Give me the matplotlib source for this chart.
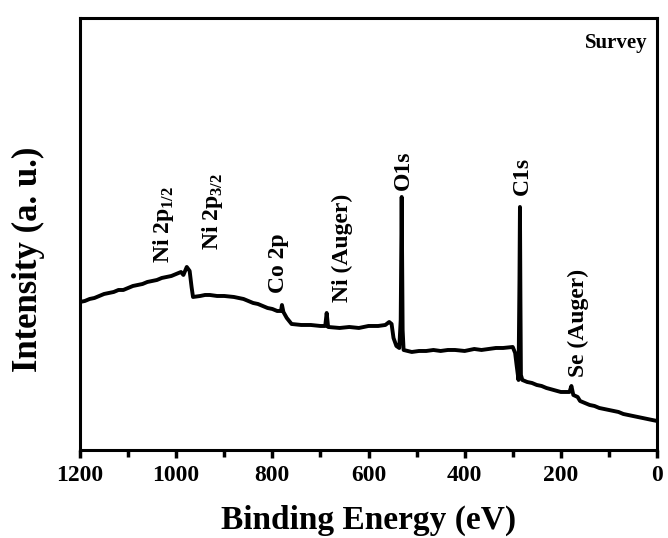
import numpy as np
import matplotlib
matplotlib.use("Agg")
import matplotlib.pyplot as plt
from matplotlib.ticker import MultipleLocator

plt.rcParams['font.family'] = ['Liberation Serif', 'DejaVu Serif']
plt.rcParams['font.weight'] = 'bold'
plt.rcParams['mathtext.fontset'] = 'custom'
plt.rcParams['mathtext.bf'] = 'Liberation Serif:bold'
plt.rcParams['mathtext.rm'] = 'Liberation Serif:bold'

# XPS survey spectrum (arbitrary intensity units)
binding_energy = np.array([
    1200, 1190, 1180, 1170, 1160, 1150, 1140, 1130, 1120, 1110, 1100, 1090, 1080, 1070, 1060, 1050,
    1040, 1030, 1020, 1010, 1000, 990, 985, 978, 972, 968, 965,
    950, 940, 930, 915, 900, 880, 870, 860, 850, 840, 830, 820, 810, 800, 790, 782, 780, 777, 770, 760,
    740, 720, 700, 690, 687, 684,
    660, 640, 620, 600, 580, 565, 557, 552, 548, 542, 536, 533, 531, 529, 527,
    510, 495, 480, 465, 450, 435, 420, 400, 380, 365, 350, 335, 320, 300, 295, 292, 288, 286, 285, 284, 283,
    280, 270, 260, 250, 240, 230, 215, 200, 182, 178, 174, 165, 160, 150, 140, 130, 120, 110, 100,
    90, 80, 70, 60, 50, 40, 30, 20, 10, 0,
], dtype=float)
intensity = np.array([
    151, 152, 154, 155, 157, 159, 160, 161, 163, 163, 165, 167, 168, 169, 171, 172,
    173, 175, 176, 177, 179, 181, 178, 186, 182, 166, 156,
    157, 158, 158, 157, 157, 156, 155, 154, 152, 150, 149, 147, 145, 144, 142, 142, 148, 141, 135, 129,
    128, 128, 127, 127, 140, 126,
    125, 126, 125, 127, 127, 128, 131, 129, 115, 107, 105, 133, 256, 123, 103,
    101, 102, 102, 103, 102, 103, 103, 102, 104, 103, 104, 105, 105, 106, 100, 88, 73, 173, 246, 153, 78,
    73, 71, 70, 68, 67, 65, 63, 61, 61, 67, 58, 56, 52, 50, 48, 47, 45, 44, 43,
    42, 41, 39, 38, 37, 36, 35, 34, 33, 32,
], dtype=float)

peak_labels = ['Ni 2p$_{\\mathbf{1/2}}$', 'Ni 2p$_{\\mathbf{3/2}}$', 'Co 2p', 'Ni (Auger)',
               'O1s', 'C1s', 'Se (Auger)']
label_energy = [1027, 925, 788, 655, 528, 281, 164]
label_height = [190, 203, 160, 151, 263, 258, 76]

fig = plt.figure(figsize=(6.68, 5.38), dpi=100)
ax = fig.add_axes([0.1198, 0.1636, 0.8637, 0.803])

ax.plot(binding_energy, intensity, color='black', linewidth=2.8)

for lab, e, h in zip(peak_labels, label_energy, label_height):
    ax.text(e, h, lab, rotation=90, ha='center', va='bottom', fontsize=17, fontweight='bold')

ax.text(0.984, 0.943, 'Survey', transform=ax.transAxes, ha='right', va='center',
        fontsize=15, fontweight='bold')

ax.set_xlim(1200, 0)
ax.set_ylim(3, 435)
ax.xaxis.set_major_locator(MultipleLocator(200))
ax.xaxis.set_minor_locator(MultipleLocator(100))
ax.set_yticks([])
ax.tick_params(axis='x', which='major', direction='out', length=6, width=2.5, labelsize=17, pad=5)
ax.tick_params(axis='x', which='minor', direction='out', length=5, width=2.5)
for lab in ax.get_xticklabels():
    lab.set_fontweight('bold')
for s in ax.spines.values():
    s.set_linewidth(2.2)

ax.set_xlabel('Binding Energy (eV)', fontsize=24, fontweight='bold', labelpad=13)
ax.set_ylabel('Intensity (a. u.)', fontsize=25, fontweight='bold')
ax.yaxis.set_label_coords(-0.061, 0.441)

fig.savefig('out.png', dpi=100)
